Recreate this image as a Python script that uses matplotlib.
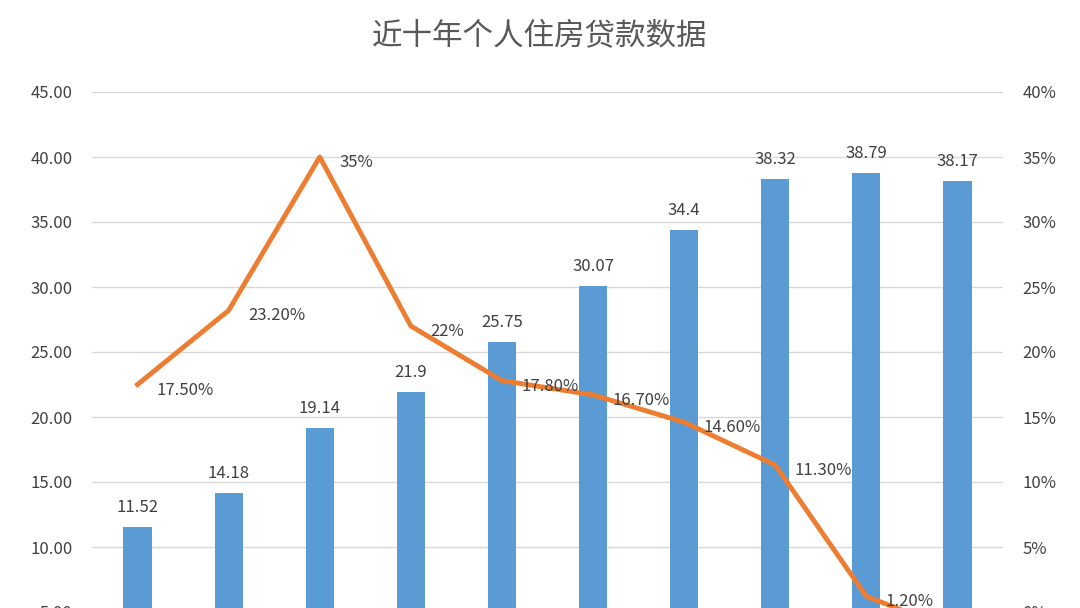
import matplotlib.pyplot as plt
from matplotlib.ticker import FuncFormatter

plt.rcParams['font.family'] = ['Noto Sans CJK SC', 'DejaVu Sans']

# data
years = list(range(10))
loans = [11.52, 14.18, 19.14, 21.9, 25.75, 30.07, 34.4, 38.32, 38.79, 38.17]
loan_labels = ["11.52", "14.18", "19.14", "21.9", "25.75", "30.07", "34.4", "38.32", "38.79", "38.17"]
growth = [17.5, 23.2, 35, 22, 17.8, 16.7, 14.6, 11.3, 1.2, -1.5]
growth_labels = ["17.50%", "23.20%", "35%", "22%", "17.80%", "16.70%", "14.60%", "11.30%", "1.20%", ""]

txt = '#404040'
fig = plt.figure(figsize=(10.8, 6.08), dpi=100)
ax = fig.add_axes([92/1080, -4/608, 911/1080, 520/608])
ax.bar(years, loans, width=0.31, color='#5B9BD5', zorder=2)
for x, v, s in zip(years, loans, loan_labels):
    ax.annotate(s, (x, v), xytext=(0, 8), textcoords='offset points',
                ha='center', va='bottom', fontsize=12, color=txt)
ax.set_xlim(-0.5, 9.5)
ax.set_ylim(5, 45)
ax.set_yticks(range(5, 50, 5))
ax.yaxis.set_major_formatter(FuncFormatter(lambda v, p: f"{v:.2f}"))
ax.grid(axis='y', color='#D9D9D9', lw=1, zorder=0)
ax.set_xticks([])

ax2 = ax.twinx()
ax2.plot(years, growth, color='#ED7D31', lw=3.5, zorder=3)
for x, v, s in zip(years, growth, growth_labels):
    ax2.annotate(s, (x, v), xytext=(14, -4), textcoords='offset points',
                 ha='left', va='center', fontsize=12, color=txt)
ax2.set_ylim(0, 40)
ax2.set_yticks(range(0, 45, 5))
ax2.yaxis.set_major_formatter(FuncFormatter(lambda v, p: f"{v:.0f}%"))

for a in (ax, ax2):
    for sp in a.spines.values():
        sp.set_visible(False)
    a.tick_params(length=0, labelsize=12, colors=txt, pad=14)

fig.text(0.5, 0.94, "近十年个人住房贷款数据", ha='center', va='center',
         fontsize=22, color='#595959')
fig.savefig('out.png', dpi=100)
